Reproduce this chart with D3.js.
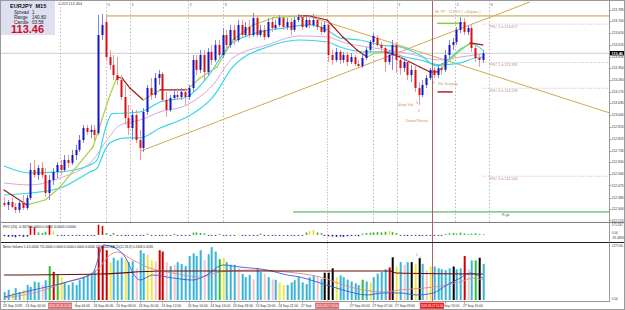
<!DOCTYPE html>
<html><head><meta charset="utf-8">
<script src="https://cdn.jsdelivr.net/npm/d3@7"></script>
<style>body{margin:0;background:#fff;overflow:hidden}svg{display:block;font-family:"Liberation Sans",Arial,sans-serif}</style>
</head><body><svg id="c" width="625" height="310"></svg>
<script>
// ---------------- DATA ----------------
const symbol = "EURJPY  M15";
const lastPrice = 113.46;
const opens = [112.345,112.330,112.352,112.315,112.293,112.345,112.307,112.382,112.591,112.553,
112.605,112.553,112.419,112.516,112.576,112.628,112.591,112.665,112.643,112.702,
112.740,112.814,112.903,112.874,112.889,112.866,113.596,113.693,113.432,113.373,
113.298,113.261,113.134,112.978,112.903,113.000,112.814,112.754,113.023,113.201,
113.149,113.276,113.306,113.112,113.038,113.127,113.149,113.134,113.172,113.134,
113.201,113.410,113.336,113.447,113.321,113.470,113.410,113.522,113.447,113.596,
113.522,113.634,113.559,113.671,113.596,113.656,113.596,113.723,113.596,113.634,
113.581,113.693,113.648,113.671,113.723,113.656,113.693,113.634,113.708,113.730,
113.656,113.708,113.671,113.708,113.656,113.619,113.671,113.447,113.410,113.470,
113.410,113.447,113.395,113.432,113.380,113.365,113.425,113.485,113.544,113.574,
113.522,113.499,113.395,113.447,113.522,113.410,113.350,113.395,113.298,113.336,
113.201,113.149,113.224,113.276,113.336,113.298,113.350,113.336,113.447,113.522,
113.544,113.634,113.693,113.619,113.648,113.499,113.425,113.410];
const highs = [112.389,112.367,112.382,112.345,112.367,112.404,112.404,112.643,112.665,112.628,
112.650,112.605,112.553,112.605,112.650,112.665,112.702,112.702,112.740,112.777,
112.851,112.926,112.926,112.926,112.926,113.745,113.753,113.745,113.485,113.447,
113.432,113.298,113.224,113.075,113.038,113.038,112.889,113.052,113.224,113.276,
113.313,113.336,113.321,113.172,113.149,113.187,113.201,113.201,113.201,113.224,
113.447,113.447,113.485,113.485,113.499,113.522,113.559,113.559,113.648,113.634,
113.671,113.671,113.708,113.708,113.693,113.708,113.760,113.745,113.671,113.671,
113.723,113.730,113.708,113.745,113.745,113.723,113.723,113.730,113.753,113.745,
113.730,113.745,113.753,113.730,113.693,113.693,113.693,113.485,113.499,113.485,
113.470,113.470,113.462,113.447,113.410,113.447,113.507,113.559,113.611,113.596,
113.544,113.522,113.485,113.559,113.544,113.447,113.425,113.410,113.373,113.373,
113.246,113.261,113.298,113.350,113.358,113.373,113.388,113.485,113.559,113.574,
113.656,113.730,113.723,113.671,113.671,113.522,113.447,113.485];
const lows = [112.315,112.293,112.307,112.270,112.270,112.293,112.293,112.367,112.531,112.516,
112.531,112.389,112.367,112.479,112.531,112.553,112.576,112.605,112.628,112.665,
112.725,112.792,112.851,112.829,112.814,112.851,113.559,113.410,113.336,113.261,
113.224,113.112,112.926,112.851,112.814,112.792,112.665,112.725,113.000,113.112,
113.127,113.224,113.097,112.985,113.023,113.112,113.112,113.112,113.075,113.112,
113.172,113.298,113.313,113.261,113.298,113.373,113.395,113.410,113.425,113.485,
113.499,113.522,113.544,113.574,113.581,113.574,113.581,113.581,113.581,113.559,
113.574,113.619,113.634,113.656,113.634,113.634,113.596,113.619,113.693,113.634,
113.648,113.648,113.656,113.634,113.596,113.611,113.395,113.373,113.395,113.380,
113.388,113.365,113.380,113.365,113.350,113.350,113.410,113.470,113.522,113.507,
113.470,113.321,113.373,113.336,113.313,113.298,113.321,113.261,113.246,113.172,
113.075,113.134,113.201,113.261,113.276,113.276,113.298,113.321,113.425,113.485,
113.522,113.611,113.596,113.596,113.470,113.395,113.358,113.388];
const closes = [112.330,112.352,112.315,112.293,112.345,112.307,112.382,112.591,112.553,112.605,
112.553,112.419,112.516,112.576,112.628,112.591,112.665,112.643,112.702,112.740,
112.814,112.903,112.874,112.889,112.851,113.596,113.671,113.432,113.373,113.298,
113.261,113.134,112.978,112.903,113.000,112.814,112.754,113.023,113.201,113.149,
113.276,113.306,113.112,113.038,113.127,113.149,113.134,113.172,113.134,113.201,
113.410,113.336,113.447,113.321,113.470,113.410,113.522,113.447,113.596,113.522,
113.634,113.559,113.671,113.596,113.656,113.596,113.723,113.596,113.634,113.581,
113.693,113.648,113.671,113.723,113.656,113.693,113.634,113.708,113.730,113.656,
113.708,113.671,113.708,113.656,113.619,113.671,113.447,113.410,113.470,113.410,
113.447,113.395,113.432,113.380,113.365,113.425,113.485,113.544,113.589,113.522,
113.499,113.395,113.447,113.522,113.410,113.350,113.395,113.298,113.336,113.201,
113.149,113.224,113.276,113.336,113.298,113.350,113.336,113.447,113.522,113.544,
113.634,113.693,113.619,113.648,113.499,113.425,113.410,113.460];

// moving averages: [candle index, price]
const maFast = [[0,112.620],[6.9,112.568],[14.9,112.576],[22.8,112.628],[24.7,112.665],[26.8,112.889],[28.6,113.008],[32.1,113.015],[36.1,113.023],[41.4,113.097],[48.5,113.134],[53.8,113.276],[59.9,113.522],[66,113.604],[74,113.648],[81.2,113.671],[85.7,113.634],[89.1,113.574],[94.4,113.559],[99.7,113.522],[105,113.507],[110.3,113.447],[114.9,113.365],[118.3,113.425],[121.5,113.499],[124.1,113.529],[127,113.485]];
const maSlow = [[0,112.404],[6.9,112.419],[14.9,112.456],[22.8,112.576],[24.7,112.605],[26.8,112.740],[28.1,112.792],[32.6,112.829],[36.1,112.829],[41.4,112.903],[48.5,112.985],[55.4,113.134],[60.7,113.358],[69.8,113.507],[78.5,113.559],[85.7,113.544],[89.1,113.507],[96.3,113.470],[101.6,113.470],[106.4,113.432],[110.3,113.410],[115.6,113.373],[121,113.388],[124.9,113.425],[127,113.432]];
const maMid = [[0,112.494],[6.9,112.479],[14.9,112.531],[23.6,112.665],[27.3,112.814],[30.8,112.926],[36.1,112.963],[41.4,113.023],[48.5,113.075],[55.4,113.224],[60.7,113.425],[69.8,113.522],[78.5,113.589],[85.7,113.581],[90.5,113.537],[96.3,113.507],[101.6,113.485],[107.7,113.455],[115.6,113.410],[121,113.432],[127,113.455]];
const maTrend = [[0,112.442],[6.1,112.330],[10.9,112.367],[14.9,112.464],[23.6,112.762],[25.5,112.926],[28.1,113.149],[30,113.283],[31.3,113.276],[33.4,113.201],[36.9,113.112],[41.4,113.187],[48.5,113.187],[52,113.276],[56.5,113.358],[60.7,113.559],[66,113.671],[71.4,113.723],[78.5,113.738],[81.2,113.738],[85.7,113.708],[89.9,113.581],[93.6,113.485],[96.3,113.432],[98.4,113.462],[101.1,113.470],[105,113.432],[110.3,113.358],[113,113.321],[115.1,113.321],[120.2,113.462],[123.6,113.537],[127,113.522]];

// levels
const priceTicks = [113.785,113.700,113.610,113.525,113.435,113.350,113.260,113.175,113.090,113.000,112.910,112.825,112.735,112.650,112.560,112.475,112.385,112.300,112.215];
const rangeHigh = 113.738;
const hiTP = 113.683;
const fscNames = ["FSC 2 = 113.677","FSC 1 = 113.391","FSC 4 = 113.199","FSC 3 = 112.544"];
const fscLevels = [113.677,113.391,113.199,112.544];
const greenLevel = 112.278;
const trendUp = [[36.3,112.732],[139.5,113.842]];
const trendDown = [[80.6,113.738],[160.7,113.015]];
const dottedIdx = [14.85,27.05,33.4,48.8,58.1,97.9,104.2,119.6,128.6];
const dottedTop = ["","0","1","2","3","","1","2","3"];
const pinkLineIdx = 85.7;
const redLineIdx = 113.5;

// volume panel
const volumes = [180,230,160,270,180,230,340,300,420,400,
340,450,770,640,570,520,400,340,400,340,
450,520,570,570,680,1200,1230,1130,840,960,
900,960,910,860,880,720,1130,1060,1020,900,
880,1130,1100,860,770,800,860,820,770,1000,
1060,1000,1130,900,1040,1200,1100,930,960,860,
800,800,720,590,520,570,470,720,640,600,
520,470,460,400,340,340,400,450,520,400,
360,520,560,520,480,620,620,720,520,560,
520,460,420,380,340,460,420,400,520,600,
640,700,740,970,760,860,800,860,860,820,
950,820,670,760,760,720,700,680,720,760,
700,720,1000,700,900,900,960,820];
const volColors = ("LLYLLYLLLL"+"PLGRGYLLLL"+"LLLLLRRRYL"+"LLYLLPLLYY"+"PRRPLPLLLL"+"LLLPLLLGYL"+"LLPLLLPLLP"+"LPLYYLLLLL"+"LLLPLKKKYL"+"LLLLLGLYLL"+"LLRKYLPLKY"+"KLPYLLLLLK"+"LLRPLGKL").split("");
const volAvg = [[0,568],[25.5,590],[41.4,658],[86.5,658],[102.4,658],[104,613],[127,590]];
const volBlue = [[0,68],[7.7,227],[16.7,409],[23.6,613],[24.7,863],[26.3,1249],[28.9,1203],[32.6,908],[34.2,613],[36.1,454],[39.5,568],[44.8,499],[50.1,454],[53.8,568],[58.1,795],[62.6,749],[69.8,681],[75.1,568],[78.5,522],[83,409],[87.3,295],[91.8,182],[96.3,114],[100.5,159],[105,159],[109.5,114],[113.8,159],[117.5,341],[121,499],[123.6,613],[127,499]];
const volPink = [[0,45],[7.7,159],[16.7,409],[24.7,681],[28.1,1022],[30,1090],[34.2,908],[38.7,726],[44.8,613],[52,522],[57.3,636],[66,681],[75.1,636],[83.8,522],[91.8,295],[100.5,182],[105,227],[113.8,295],[121,409],[124.4,499],[127,454]];

// FVO panel
const fvo = [-20,-30,-25,-35,-20,-30,-25,140,120,40,
30,50,150,60,-10,-8,-5,-10,-6,-8,
-5,-10,-6,-8,-12,160,140,30,-10,30,
-12,-10,-15,-10,-8,-12,-10,-8,20,-10,
-12,-8,-10,-6,-8,20,-8,-6,-10,-8,
35,40,30,25,-6,-8,-10,15,-8,-6,
-10,-8,10,-6,-8,-10,-5,-8,20,-6,
-8,-5,-10,-6,-8,-5,-6,-8,-10,-6,
40,60,80,40,30,-15,-20,-25,-30,-25,
-30,-20,-15,-10,-20,20,30,35,40,45,
40,50,60,45,30,-8,-12,-15,-10,-12,
-15,-10,-8,-10,-6,-8,-5,15,25,30,
20,35,25,15,20,25,15,10];
const fvoColors = ("BBBBBBBRRG"+"GGRYBBBBBB"+"BBBBBRRGBG"+"BBBBBBBBGB"+"BBBBBGBBBB"+"GGGGBBBGBB"+"BBYBBBBBGB"+"BBBBBBBBBB"+"GYYGGBBBBB"+"BBBBBGGGGG"+"GGYGGBBBBB"+"BBBBBBBGGG"+"GGGGGGGG").split("");

// time axis (visible parts of the labels)
const xTickIdx = [0,6,19,24,30,36,42,49,55,61,67,73,79,92,98,104,117,122];
const xTickLabels = ["23 Sep 2019","24 Sep 00:00","Sep 04:00","24 Sep 06:00","24 Sep 08:00","24 Sep 10:00","24 Sep 12:00","24 Sep 14:00","24 Sep 16:00","24 Sep 18:00","24 Sep 20:00","24 Sep 22:00","27 Sep","27 Sep 05:00","27 Sep 07:00","27 Sep 09:00","Sep 13:00","27 Sep 15:00"];
const boxIdx = [14.85,85.7,113.5];
const boxLabels = ["2019.09.24 02:45","2019.09.27 03:00","2019.09.27 11:00"];

// ---------------- DRAW ----------------
const svg = d3.select("#c");
const AX = 609.5;
const x = d3.scaleLinear().domain([0,127]).range([4,482.8]);
const yP = d3.scaleLinear().domain([112.203,113.842]).range([222,2]);
const yF = d3.scaleLinear().domain([-95.469,171.267]).range([241,224]);
const yV = d3.scaleLinear().domain([0,1271.65]).range([300,244]);

svg.append("rect").attr("width",625).attr("height",310).attr("fill","#fff");
const defs = svg.append("defs");
defs.append("clipPath").attr("id","cp").append("rect").attr("x",0).attr("y",0).attr("width",AX).attr("height",222);
defs.append("clipPath").attr("id","cv").append("rect").attr("x",0).attr("y",243).attr("width",AX).attr("height",58);

const gp = svg.append("g").attr("clip-path","url(#cp)");

// dotted period lines
gp.selectAll(".dl").data(dottedIdx).join("line")
  .attr("x1",d=>Math.round(x(d))+0.5).attr("x2",d=>Math.round(x(d))+0.5).attr("y1",0).attr("y2",222)
  .attr("stroke","#a8a8a8").attr("stroke-width",0.8).attr("stroke-dasharray","1.5,2");
svg.selectAll(".dt").data(dottedIdx).join("text")
  .attr("x",d=>x(d)+1.5).attr("y",6).text((d,i)=>dottedTop[i])
  .attr("font-size",4.2).attr("fill","#666");
svg.append("line").attr("x1",Math.round(x(pinkLineIdx))+0.5).attr("x2",Math.round(x(pinkLineIdx))+0.5)
  .attr("y1",0).attr("y2",301).attr("stroke","#e0a0a8").attr("stroke-width",0.8).attr("stroke-dasharray","1.5,1.5");
svg.append("line").attr("x1",Math.round(x(redLineIdx))+0.5).attr("x2",Math.round(x(redLineIdx))+0.5)
  .attr("y1",0).attr("y2",301).attr("stroke","#a05060").attr("stroke-width",0.9);

// bid line
gp.append("line").attr("x1",0).attr("x2",AX).attr("y1",yP(lastPrice)).attr("y2",yP(lastPrice))
  .attr("stroke","#b8bfcc").attr("stroke-width",0.8);

// FSC levels
fscLevels.forEach((v,i)=>{
  gp.append("line").attr("x1",x(127)).attr("x2",AX).attr("y1",yP(v)).attr("y2",yP(v))
    .attr("stroke","#c8a0a8").attr("stroke-width",0.7).attr("stroke-dasharray","1.2,1.5");
  gp.append("text").attr("x",x(127)+7).attr("y",yP(v)+3.5).text(fscNames[i])
    .attr("font-size",3.7).attr("fill","#c08888");
});
gp.append("line").attr("x1",x(76.7)).attr("x2",AX).attr("y1",yP(greenLevel)).attr("y2",yP(greenLevel))
  .attr("stroke","#3aa83a").attr("stroke-width",1);
gp.append("text").attr("x",x(132)).attr("y",yP(greenLevel)+4.2).text("R.gL").attr("font-size",4).attr("fill","#666");

gp.append("line").attr("x1",x(27.1)).attr("x2",AX).attr("y1",yP(rangeHigh)).attr("y2",yP(rangeHigh))
  .attr("stroke","#dcc58e").attr("stroke-width",1.8);
const lp = d3.line().x(d=>x(d[0])).y(d=>yP(d[1]));
[trendUp,trendDown].forEach(t=>{
  gp.append("path").attr("d",lp(t)).attr("fill","none").attr("stroke","#d2a850").attr("stroke-width",1);
});
gp.append("line").attr("x1",x(114.9)).attr("x2",x(121.5)).attr("y1",yP(hiTP)).attr("y2",yP(hiTP))
  .attr("stroke","#80d040").attr("stroke-width",1.5);
gp.append("text").attr("x",x(114.4)).attr("y",12.5).text("Hi TP : 113.67 ( +30pips )")
  .attr("font-size",4).attr("fill","#b89878");

// moving averages
const lc = d3.line().x(d=>x(d[0])).y(d=>yP(d[1])).curve(d3.curveMonotoneX);
gp.append("path").attr("d",lc(maMid)).attr("fill","none").attr("stroke","#d8a8d8").attr("stroke-width",1);
gp.append("path").attr("d",lc(maSlow)).attr("fill","none").attr("stroke","#38d8e0").attr("stroke-width",1.2);
gp.append("path").attr("d",lc(maFast)).attr("fill","none").attr("stroke","#38d8e0").attr("stroke-width",1.2);
for(let i=0;i<maTrend.length-1;i++){
  const a=maTrend[i], b=maTrend[i+1];
  gp.append("path").attr("d",lp([a,b])).attr("fill","none")
    .attr("stroke", b[1]>a[1] ? "#a8d040" : "#a01818").attr("stroke-width",1.2).attr("stroke-linecap","round");
}

// candles
const cg = gp.append("g");
opens.forEach((o,i)=>{
  const c=closes[i], up=c>=o, cx=Math.round(x(i));
  cg.append("line").attr("x1",cx+0.5).attr("x2",cx+0.5).attr("y1",yP(highs[i])).attr("y2",yP(lows[i]))
    .attr("stroke", up?"#8080dd":"#e89a9a").attr("stroke-width",1);
  const top=yP(Math.max(o,c)), bot=yP(Math.min(o,c));
  cg.append("rect").attr("x",cx-0.5).attr("y",top).attr("width",2).attr("height",Math.max(1,bot-top))
    .attr("fill", up?"#1414c8":"#dc1010");
});

// annotations
const ann = [["Stop Vol",104.4,113.070,"#d49060"],["DownThrust",106.5,112.950,"#d49060"],["No Supply",115.2,113.222,"#c8a080"]];
ann.forEach(a=>gp.append("text").attr("x",x(a[1])).attr("y",yP(a[2])).text(a[0]).attr("font-size",4.2).attr("fill",a[3]));
[[109.6,113.080],[110.1,113.020],[114,113.232]].forEach(m=>gp.append("text").attr("x",x(m[0])).attr("y",yP(m[1])).attr("text-anchor","middle")
  .text("\u2640").attr("font-size",5).attr("fill","#b05050"));
gp.append("line").attr("x1",x(115)).attr("x2",x(119)).attr("y1",yP(113.172)).attr("y2",yP(113.172)).attr("stroke","#a00000").attr("stroke-width",1.3);

// FVO panel
const fcol = {B:"#1a1a9a",R:"#dd0000",G:"#33bb33",Y:"#e8e030"};
svg.append("g").selectAll("rect").data(fvo).join("rect")
  .attr("x",(d,i)=>Math.round(x(i))-0.3).attr("width",1.6)
  .attr("y",d=>Math.min(yF(d),yF(0))).attr("height",d=>Math.max(0.8,Math.abs(yF(d)-yF(0))))
  .attr("fill",(d,i)=>fcol[fvoColors[i]]);
svg.append("text").attr("x",3).attr("y",227.5).text("FVO (20) -0.3470 0.0000 0.0000 0.0000 0.0000")
  .attr("font-size",3.6).attr("fill","#222").attr("textLength",73).attr("lengthAdjust","spacingAndGlyphs");

// Volume panel
const vcol = {L:"#3ab4d8",P:"#f2c4cc",Y:"#f2e640",R:"#cc0000",G:"#2ec02e",K:"#000000"};
const gv = svg.append("g").attr("clip-path","url(#cv)");
gv.selectAll("rect").data(volumes).join("rect")
  .attr("x",(d,i)=>Math.round(x(i))-0.3).attr("width",2)
  .attr("y",d=>yV(d)).attr("height",d=>yV(0)-yV(d))
  .attr("fill",(d,i)=>vcol[volColors[i]]);
const lv = d3.line().x(d=>x(d[0])).y(d=>yV(d[1])).curve(d3.curveMonotoneX);
gv.append("path").attr("d",lv(volPink)).attr("fill","none").attr("stroke","#e08888").attr("stroke-width",0.9);
gv.append("path").attr("d",lv(volBlue)).attr("fill","none").attr("stroke","#3c5ae0").attr("stroke-width",0.9);
gv.append("path").attr("d",lv(volAvg)).attr("fill","none").attr("stroke","#6a0c0c").attr("stroke-width",1.2);
[[109.6,1000],[110.4,920],[113.8,560]].forEach(m=>gv.append("text").attr("x",x(m[0])).attr("y",yV(m[1])).attr("text-anchor","middle")
  .text("\u2640").attr("font-size",5).attr("fill","#d04040"));
svg.append("text").attr("x",3).attr("y",247.5).text("Better Volume 1.4 0.0000 711.0000 0.0000 0.0000 0.0000 0.0000 379.0000 MACD(12,26,9) 0.2436 0.0236")
  .attr("font-size",3.6).attr("fill","#222").attr("textLength",150).attr("lengthAdjust","spacingAndGlyphs");

// frames & separators
svg.append("line").attr("x1",0).attr("x2",625).attr("y1",222.5).attr("y2",222.5).attr("stroke","#808080").attr("stroke-width",1);
svg.append("line").attr("x1",0).attr("x2",625).attr("y1",242.5).attr("y2",242.5).attr("stroke","#202020").attr("stroke-width",1.2);
svg.append("line").attr("x1",0).attr("x2",AX).attr("y1",301.5).attr("y2",301.5).attr("stroke","#808080").attr("stroke-width",0.8);
svg.append("line").attr("x1",AX).attr("x2",AX).attr("y1",0).attr("y2",302).attr("stroke","#808080").attr("stroke-width",0.8);
svg.append("rect").attr("x",0.5).attr("y",0.5).attr("width",624).attr("height",309).attr("fill","none").attr("stroke","#9a9a9a").attr("stroke-width",1);

// price axis
const ax = svg.append("g");
priceTicks.forEach(t=>{
  ax.append("line").attr("x1",AX).attr("x2",AX+2).attr("y1",Math.round(yP(t))+0.5).attr("y2",Math.round(yP(t))+0.5).attr("stroke","#808080").attr("stroke-width",0.7);
  ax.append("text").attr("x",AX+2.3).attr("y",yP(t)+1.2).text(t.toFixed(3)).attr("font-size",3.35).attr("fill","#333");
});
ax.append("rect").attr("x",AX+0.5).attr("y",yP(lastPrice)-2.3).attr("width",14).attr("height",4.4).attr("fill","#000");
ax.append("text").attr("x",AX+2).attr("y",yP(lastPrice)+1.4).text(lastPrice.toFixed(2)).attr("font-size",3.8).attr("font-weight","bold").attr("fill","#fff");
[["171.267",226.2],["0.00",233.8],["-95.4690",238.9],["1271.65",246.6],["0.00",300.2]].forEach(a=>
  ax.append("text").attr("x",AX+2.3).attr("y",a[1]).text(a[0]).attr("font-size",3.1).attr("fill","#333"));

// time axis
const boxW = 24;
xTickIdx.forEach((t,i)=>{
  svg.append("line").attr("x1",Math.round(x(t))+0.5).attr("x2",Math.round(x(t))+0.5).attr("y1",301.5).attr("y2",303.5).attr("stroke","#808080").attr("stroke-width",0.7);
  svg.append("text").attr("x",x(t)-1).attr("y",307.3).text(xTickLabels[i]).attr("font-size",3.35).attr("fill","#333");
});
boxIdx.forEach((b,i)=>{
  const bx=x(b);
  svg.append("rect").attr("x",bx-boxW/2).attr("y",302.6).attr("width",boxW).attr("height",6.2).attr("fill", i==2?"#ee1c1c":"#e06868");
  svg.append("text").attr("x",bx).attr("y",307.2).attr("text-anchor","middle").text(boxLabels[i]).attr("font-size",2.95).attr("fill","#fff");
});

// info box
svg.append("rect").attr("x",1).attr("y",1).attr("width",54).attr("height",34).attr("fill","#dedff0");
svg.append("text").attr("x",10).attr("y",7.5).text(symbol).attr("font-size",5.6).attr("font-weight","bold").attr("fill","#111").attr("xml:space","preserve");
[["Spread","1",13.5],["Range","140.80",18.5],["Candle","03:58",23.5]].forEach(r=>{
  svg.append("text").attr("x",14).attr("y",r[2]).text(r[0]).attr("font-size",4.6).attr("fill","#222");
  svg.append("text").attr("x",32).attr("y",r[2]).text(r[1]).attr("font-size",4.6).attr("fill","#222");
});
svg.append("text").attr("x",11).attr("y",33).text(lastPrice.toFixed(2)).attr("font-size",11).attr("font-weight","bold").attr("fill","#c8102e");
svg.append("text").attr("x",58).attr("y",5).text("1.203 113.464").attr("font-size",3.8).attr("fill","#444");
</script></body></html>
